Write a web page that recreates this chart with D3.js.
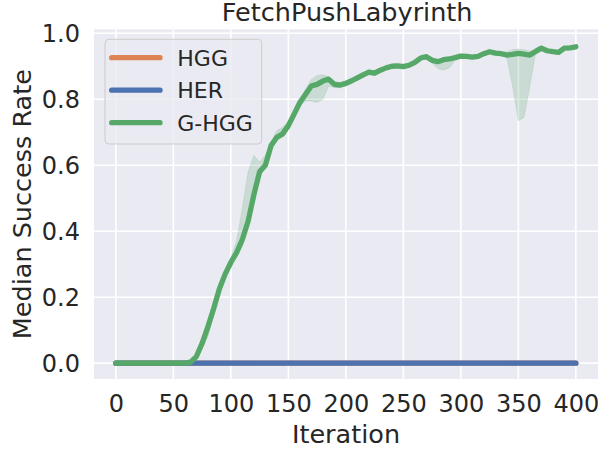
<!DOCTYPE html>
<html>
<head>
<meta charset="utf-8">
<script src="https://cdn.jsdelivr.net/npm/d3@7"></script>
<style>
  html, body { margin: 0; padding: 0; background: #fff; }
  svg { display: block; font-family: "DejaVu Sans", sans-serif; }
</style>
</head>
<body>
<svg id="chart" width="598" height="451"></svg>
<script>
// ── Data ─────────────────────────────────────────────────────────────────────
const iterations = [
  0, 5, 10, 15, 20, 25, 30, 35, 40, 45, 50, 55, 60, 65, 70, 75, 80, 85, 90, 95,
  100, 105, 110, 115, 120, 125, 130, 135, 140, 145, 150, 155, 160, 165, 170, 175,
  180, 185, 190, 195, 200, 205, 210, 215, 220, 225, 230, 235, 240, 245, 250, 255,
  260, 265, 270, 275, 280, 285, 290, 295, 300, 305, 310, 315, 320, 325, 330, 335,
  340, 345, 350, 355, 360, 365, 370, 375, 380, 385, 390, 395, 400
];

const ghggMedian = [
  0, 0, 0, 0, 0, 0, 0, 0, 0, 0, 0, 0, 0, 0.003, 0.02, 0.06, 0.11, 0.165, 0.225, 0.27,
  0.305, 0.335, 0.375, 0.43, 0.51, 0.58, 0.60, 0.66, 0.685, 0.695, 0.72, 0.755, 0.79, 0.815, 0.84, 0.845,
  0.855, 0.861, 0.845, 0.843, 0.848, 0.856, 0.865, 0.874, 0.882, 0.879, 0.888, 0.895, 0.90, 0.901, 0.899, 0.903,
  0.912, 0.925, 0.929, 0.918, 0.914, 0.92, 0.922, 0.926, 0.931, 0.93, 0.928, 0.93, 0.938, 0.944, 0.94, 0.938,
  0.934, 0.936, 0.939, 0.937, 0.934, 0.945, 0.955, 0.947, 0.944, 0.942, 0.955, 0.956, 0.959
];

const ghggUpper = [
  0, 0, 0, 0, 0, 0, 0, 0, 0, 0, 0, 0, 0, 0.005, 0.03, 0.075, 0.125, 0.18, 0.235, 0.28,
  0.32, 0.37, 0.47, 0.58, 0.63, 0.61, 0.63, 0.67, 0.705, 0.715, 0.73, 0.765, 0.80, 0.83, 0.86, 0.872,
  0.874, 0.868, 0.855, 0.85, 0.855, 0.863, 0.872, 0.88, 0.888, 0.887, 0.894, 0.90, 0.905, 0.907, 0.906, 0.91,
  0.918, 0.93, 0.934, 0.925, 0.92, 0.926, 0.928, 0.931, 0.936, 0.936, 0.934, 0.936, 0.943, 0.948, 0.946, 0.944,
  0.944, 0.95, 0.952, 0.95, 0.946, 0.95, 0.959, 0.952, 0.949, 0.947, 0.959, 0.96, 0.962
];

const ghggLower = [
  0, 0, 0, 0, 0, 0, 0, 0, 0, 0, 0, 0, 0, 0, 0.01, 0.045, 0.08, 0.14, 0.21, 0.26,
  0.295, 0.33, 0.355, 0.42, 0.50, 0.57, 0.59, 0.65, 0.675, 0.685, 0.71, 0.745, 0.78, 0.795, 0.795, 0.79,
  0.80, 0.84, 0.835, 0.835, 0.84, 0.848, 0.857, 0.866, 0.875, 0.872, 0.882, 0.889, 0.894, 0.894, 0.893, 0.897,
  0.906, 0.919, 0.922, 0.91, 0.893, 0.889, 0.895, 0.918, 0.925, 0.924, 0.922, 0.924, 0.932, 0.938, 0.934, 0.932,
  0.925, 0.84, 0.735, 0.745, 0.84, 0.94, 0.95, 0.942, 0.939, 0.937, 0.95, 0.952, 0.956
];

// HER and HGG stay at zero for the whole run
const flatIterations = [0, 400];
const herRate = [0, 0];
const hggRate = [0, 0];

const xTicks = [0, 50, 100, 150, 200, 250, 300, 350, 400];
const yTicks = [0, 0.2, 0.4, 0.6, 0.8, 1.0];
const seriesNames = ['HGG', 'HER', 'G-HGG'];
const seriesColors = ['#dd8452', '#4c72b0', '#55a868'];

// ── Layout ───────────────────────────────────────────────────────────────────
const plot = { left: 94, right: 600, top: 29.3, bottom: 379 };
const textColor = '#262626';
const lineWidth = 5.3;

const svg = d3.select('#chart');

const x = d3.scaleLinear().domain([-19, 421]).range([plot.left, plot.right]);
const y = d3.scaleLinear().domain([-0.048, 1.012]).range([plot.bottom, plot.top]);

svg.append('defs').append('clipPath').attr('id', 'plot-clip')
  .append('rect')
  .attr('x', plot.left).attr('y', plot.top)
  .attr('width', plot.right - plot.left).attr('height', plot.bottom - plot.top);

// background
svg.append('rect')
  .attr('x', plot.left).attr('y', plot.top)
  .attr('width', plot.right - plot.left).attr('height', plot.bottom - plot.top)
  .attr('fill', '#eaeaf2');

// ── Grid ─────────────────────────────────────────────────────────────────────
const gridG = svg.append('g').attr('clip-path', 'url(#plot-clip)');
gridG.selectAll('.vgrid').data(xTicks).enter().append('line')
  .attr('x1', d => x(d)).attr('x2', d => x(d))
  .attr('y1', plot.top).attr('y2', plot.bottom)
  .attr('stroke', '#fff').attr('stroke-width', 1.6);
gridG.selectAll('.hgrid').data(yTicks).enter().append('line')
  .attr('y1', d => y(d)).attr('y2', d => y(d))
  .attr('x1', plot.left).attr('x2', plot.right)
  .attr('stroke', '#fff').attr('stroke-width', 1.6);

// ── Axes ─────────────────────────────────────────────────────────────────────
const xAxis = svg.append('g')
  .attr('transform', `translate(0,${plot.bottom})`)
  .call(d3.axisBottom(x).tickValues(xTicks).tickSize(0).tickPadding(0).tickFormat(d3.format('d')));
xAxis.select('.domain').remove();
xAxis.selectAll('text')
  .attr('y', 33.3).attr('dy', 0)
  .attr('font-size', 24).attr('fill', textColor)
  .attr('font-family', '"DejaVu Sans", sans-serif');

const yAxis = svg.append('g')
  .attr('transform', `translate(${plot.left},0)`)
  .call(d3.axisLeft(y).tickValues(yTicks).tickSize(0).tickPadding(14).tickFormat(d3.format('.1f')));
yAxis.select('.domain').remove();
yAxis.selectAll('text')
  .attr('dy', '0.36em')
  .attr('font-size', 24).attr('fill', textColor)
  .attr('font-family', '"DejaVu Sans", sans-serif');

svg.append('text')
  .attr('x', (plot.left + 598) / 2).attr('y', 443.3)
  .attr('text-anchor', 'middle')
  .attr('font-size', 25.5).attr('fill', textColor)
  .text('Iteration');

svg.append('text')
  .attr('transform', `translate(31,${(plot.top + plot.bottom) / 2}) rotate(-90)`)
  .attr('text-anchor', 'middle')
  .attr('font-size', 25.5).attr('fill', textColor)
  .text('Median Success Rate');

svg.append('text')
  .attr('x', 347.2).attr('y', 20.5)
  .attr('text-anchor', 'middle')
  .attr('font-size', 25.5).attr('fill', textColor)
  .text('FetchPushLabyrinth');

// ── Series ───────────────────────────────────────────────────────────────────
const marksG = svg.append('g').attr('clip-path', 'url(#plot-clip)');

const line = d3.line()
  .x(d => x(d[0]))
  .y(d => y(d[1]));

function drawLine(xs, ys, color) {
  marksG.append('path')
    .datum(xs.map((v, i) => [v, ys[i]]))
    .attr('d', line)
    .attr('fill', 'none')
    .attr('stroke', color)
    .attr('stroke-width', lineWidth)
    .attr('stroke-linecap', 'round')
    .attr('stroke-linejoin', 'round');
}

drawLine(flatIterations, hggRate, seriesColors[0]);
drawLine(flatIterations, herRate, seriesColors[1]);

const band = d3.area()
  .x((d, i) => x(iterations[i]))
  .y0((d, i) => y(ghggLower[i]))
  .y1((d, i) => y(ghggUpper[i]));

marksG.append('path')
  .datum(iterations)
  .attr('d', band)
  .attr('fill', seriesColors[2])
  .attr('fill-opacity', 0.22)
  .attr('stroke', seriesColors[2])
  .attr('stroke-opacity', 0.15)
  .attr('stroke-width', 1);

drawLine(iterations, ghggMedian, seriesColors[2]);

// ── Legend ───────────────────────────────────────────────────────────────────
const legend = svg.append('g');
legend.append('rect')
  .attr('x', 105).attr('y', 39.3)
  .attr('width', 156.7).attr('height', 104.7)
  .attr('rx', 4)
  .attr('fill', '#eaeaf2').attr('fill-opacity', 0.8)
  .attr('stroke', '#cccccc').attr('stroke-width', 1);

const rows = legend.selectAll('.legend-row')
  .data(seriesNames)
  .enter().append('g')
  .attr('transform', (d, i) => `translate(0,${57.7 + i * 32.5})`);

rows.append('line')
  .attr('x1', 111.7).attr('x2', 160)
  .attr('stroke', (d, i) => seriesColors[i])
  .attr('stroke-width', lineWidth)
  .attr('stroke-linecap', 'round');

rows.append('text')
  .attr('x', 177.3).attr('dy', '0.36em')
  .attr('font-size', 22).attr('fill', textColor)
  .text(d => d);
</script>
</body>
</html>
